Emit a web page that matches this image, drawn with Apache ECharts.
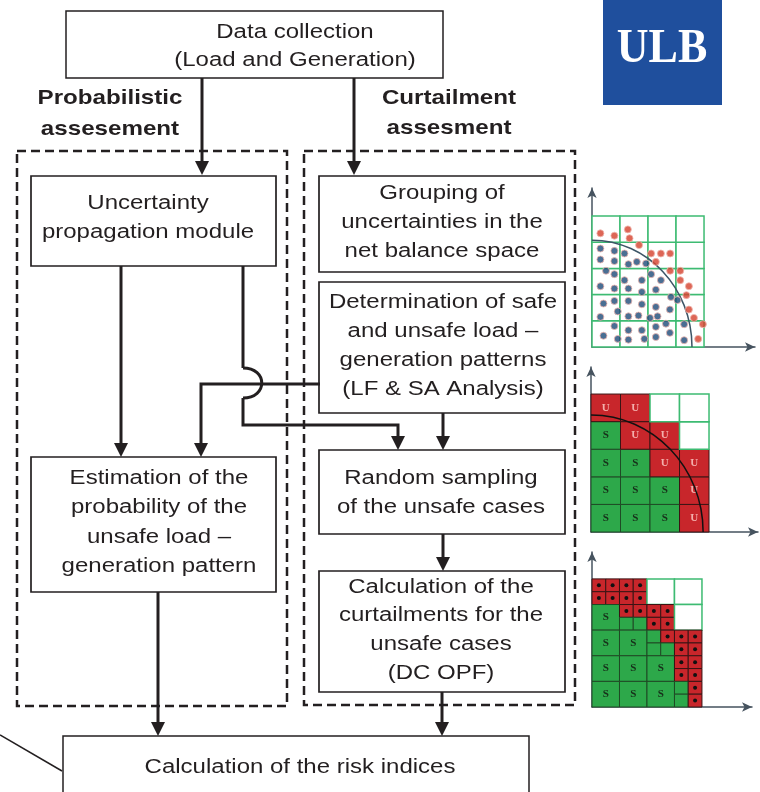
<!DOCTYPE html>
<html><head><meta charset="utf-8">
<script src="https://cdn.jsdelivr.net/npm/echarts@6/dist/echarts.min.js"></script>
<style>html,body{margin:0;padding:0;background:#fff}#c{width:760px;height:792px}</style>
</head><body><div id="c"></div>
<script>
// ---------- texts ----------
const dataCollectionText = ['Data collection', '(Load and Generation)'];
const probLabel = ['Probabilistic', 'assesement'];
const curtLabel = ['Curtailment', 'assesment'];
const uncertaintyText = ['Uncertainty', 'propagation module'];
const groupingText = ['Grouping of', 'uncertainties in the', 'net balance space'];
const determinationText = ['Determination of safe', 'and unsafe load \u2013', 'generation patterns', '(LF & SA Analysis)'];
const estimationText = ['Estimation of the', 'probability of the', 'unsafe load \u2013', 'generation pattern'];
const samplingText = ['Random sampling', 'of the unsafe cases'];
const curtailText = ['Calculation of the', 'curtailments for the', 'unsafe cases', '(DC OPF)'];
const riskText = ['Calculation of the risk indices'];
const logoText = 'ULB';

// ---------- mini chart 1: uncertainty points (grid units) ----------
const unsafePoints = [[0.30,4.34],[0.80,4.25],[1.28,4.49],[1.34,4.15],[1.68,3.89],[2.11,3.57],[2.46,3.57],[2.79,3.57],[2.28,3.25],[2.79,2.91],[3.15,2.91],[3.15,2.55],[3.46,2.32],[3.37,1.98],[3.46,1.43],[3.64,1.11],[3.96,0.87],[3.79,0.31]];
const safePoints = [[0.30,3.76],[0.80,3.67],[0.30,3.34],[0.80,3.28],[1.16,3.57],[1.30,3.16],[1.60,3.25],[1.93,3.19],[0.50,2.91],[0.80,2.78],[1.16,2.55],[1.78,2.55],[2.11,2.78],[2.46,2.55],[0.30,2.32],[0.80,2.23],[1.30,2.23],[1.78,2.10],[2.28,2.19],[2.82,1.91],[0.41,1.66],[0.80,1.76],[1.30,1.76],[1.78,1.63],[2.28,1.53],[2.78,1.43],[3.05,1.79],[0.92,1.36],[1.30,1.17],[1.66,1.20],[2.07,1.11],[2.34,1.17],[0.30,1.15],[2.64,0.89],[3.29,0.87],[0.80,0.80],[1.30,0.64],[1.78,0.64],[2.28,0.77],[2.78,0.54],[0.41,0.43],[0.92,0.31],[1.30,0.28],[1.87,0.31],[2.28,0.38],[3.29,0.26]];
const chart1Cols = 4, chart1Rows = 5;
const chart1Curve = [3.57, 4.08];

// ---------- mini chart 2: safe/unsafe cells (rows listed bottom to top) ----------
const chart2Cells = [
  ['S','S','S','U'],
  ['S','S','S','U'],
  ['S','S','U','U'],
  ['S','U','U','E'],
  ['U','U','E','E']
];
const chart2Curve = [3.8, 4.24];

// ---------- mini chart 3: refined cells [x, y, w, h, state] ----------
const chart3Cells = [
  [0,4.5,0.5,0.5,'D'],[0.5,4.5,0.5,0.5,'D'],[0,4,0.5,0.5,'D'],[0.5,4,0.5,0.5,'D'],
  [1,4.5,0.5,0.5,'D'],[1.5,4.5,0.5,0.5,'D'],[1,4,0.5,0.5,'D'],[1.5,4,0.5,0.5,'D'],
  [2,4,1,1,'E'],[3,4,1,1,'E'],
  [0,3,1,1,'S'],
  [1,3.5,0.5,0.5,'D'],[1.5,3.5,0.5,0.5,'D'],[1,3,0.5,0.5,'G'],[1.5,3,0.5,0.5,'G'],
  [2,3.5,0.5,0.5,'D'],[2.5,3.5,0.5,0.5,'D'],[2,3,0.5,0.5,'D'],[2.5,3,0.5,0.5,'D'],
  [3,3,1,1,'E'],
  [0,2,1,1,'S'],[1,2,1,1,'S'],
  [2,2.5,0.5,0.5,'G'],[2.5,2.5,0.5,0.5,'D'],[2,2,0.5,0.5,'G'],[2.5,2,0.5,0.5,'G'],
  [3,2.5,0.5,0.5,'D'],[3.5,2.5,0.5,0.5,'D'],[3,2,0.5,0.5,'D'],[3.5,2,0.5,0.5,'D'],
  [0,1,1,1,'S'],[1,1,1,1,'S'],[2,1,1,1,'S'],
  [3,1.5,0.5,0.5,'D'],[3.5,1.5,0.5,0.5,'D'],[3,1,0.5,0.5,'D'],[3.5,1,0.5,0.5,'D'],
  [0,0,1,1,'S'],[1,0,1,1,'S'],[2,0,1,1,'S'],
  [3,0.5,0.5,0.5,'G'],[3.5,0.5,0.5,0.5,'D'],[3,0,0.5,0.5,'G'],[3.5,0,0.5,0.5,'D']
];

// ---------- styles ----------
const INK = '#231f20';
const RED = '#c8262b', GREEN = '#2da84a', GRIDGREEN = '#3dbb72';
const FONT = '"Liberation Sans", Arial, Helvetica, sans-serif';

function textLines(lines, cx, y0, dy, bold) {
  return lines.map((t, i) => ({
    type: 'text', x: cx, y: y0 + i * dy, scaleX: bold ? 1.15 : 1.2, z: 100,
    style: { text: t, fill: INK, font: (bold ? 'bold 21px ' : '20px ') + FONT,
      textAlign: 'center', textVerticalAlign: 'middle', align: 'center', verticalAlign: 'middle' }
  }));
}
function box(x, y, w, h, lw, dash) {
  return { type: 'rect', z: 90, shape: { x: x, y: y, width: w, height: h },
    style: { fill: dash ? 'none' : '#fff', stroke: INK, lineWidth: lw, lineDash: dash || null } };
}
function arrow(points) {
  const n = points.length, tip = points[n - 1];
  const pts = points.slice(0, n - 1).concat([[tip[0], tip[1] - 10]]);
  return [
    { type: 'polyline', z: 95, shape: { points: pts }, style: { stroke: INK, lineWidth: 3, fill: 'none' } },
    { type: 'polygon', z: 96, shape: { points: [[tip[0] - 7, tip[1] - 14], [tip[0] + 7, tip[1] - 14], [tip[0], tip[1]]] }, style: { fill: INK } }
  ];
}

const g = [];
g.push(box(17, 151, 270, 555, 2.5, [9, 5]));
g.push(box(304, 151, 271, 554, 2.5, [9, 5]));
g.push(box(66, 11, 377, 67, 1.5));
g.push(box(31, 176, 245, 90, 1.7));
g.push(box(319, 176, 246, 96, 1.7));
g.push(box(319, 282, 246, 131, 1.7));
g.push(box(31, 457, 245, 135, 1.7));
g.push(box(319, 450, 246, 84, 1.7));
g.push(box(319, 571, 246, 121, 1.7));
g.push(box(63, 736, 466, 80, 1.5));
g.push({ type: 'line', z: 95, shape: { x1: 0, y1: 735, x2: 62, y2: 771 }, style: { stroke: INK, lineWidth: 1.5 } });
[
  [[202, 78], [202, 175]],
  [[354, 78], [354, 175]],
  [[121, 266], [121, 457]],
  [[320, 384], [201, 384], [201, 457]],
  [[443, 413], [443, 450]],
  [[443, 534], [443, 571]],
  [[442, 692], [442, 736]],
  [[158, 592], [158, 736]],
  [[243, 398], [243, 425], [398, 425], [398, 450]]
].forEach(p => arrow(p).forEach(e => g.push(e)));
g.push({ type: 'polyline', z: 95, shape: { points: [[243, 266], [243, 368]] }, style: { stroke: INK, lineWidth: 3, fill: 'none' } });
g.push({ type: 'bezierCurve', z: 95, shape: { x1: 243, y1: 368, cpx1: 268, cpy1: 368, cpx2: 268, cpy2: 398, x2: 243, y2: 398 }, style: { stroke: INK, lineWidth: 3, fill: 'none' } });
textLines(dataCollectionText, 295, 32, 28.5).forEach(e => g.push(e));
textLines(probLabel, 110, 98, 31, true).forEach(e => g.push(e));
textLines(curtLabel, 449, 98, 30, true).forEach(e => g.push(e));
textLines(uncertaintyText, 148, 203, 29).forEach(e => g.push(e));
textLines(groupingText, 442, 193, 29).forEach(e => g.push(e));
textLines(determinationText, 443, 302, 29).forEach(e => g.push(e));
textLines(estimationText, 159, 478, 29.5).forEach(e => g.push(e));
textLines(samplingText, 441, 478, 29).forEach(e => g.push(e));
textLines(curtailText, 441, 587, 28.7).forEach(e => g.push(e));
textLines(riskText, 300, 767, 29).forEach(e => g.push(e));
g.push({ type: 'rect', z: 90, shape: { x: 603, y: 0, width: 119, height: 105 }, style: { fill: '#1f4f9d' } });
g.push({ type: 'text', x: 662, y: 50, scaleY: 1.1, z: 100, style: { text: logoText, fill: '#fff', font: 'bold 44px "Liberation Serif", "Times New Roman", serif',
  textAlign: 'center', textVerticalAlign: 'middle', align: 'center', verticalAlign: 'middle' } });

function axisPair(idx, xmax, ymax) {
  const line = { show: true, symbol: ['none', 'arrow'], symbolSize: [7, 10], lineStyle: { color: '#46535f', width: 1.5 } };
  return {
    x: { type: 'value', gridIndex: idx, min: 0, max: xmax, axisLine: line, axisTick: { show: false }, axisLabel: { show: false }, splitLine: { show: false } },
    y: { type: 'value', gridIndex: idx, min: 0, max: ymax, axisLine: line, axisTick: { show: false }, axisLabel: { show: false }, splitLine: { show: false } }
  };
}
const a1 = axisPair(0, 5.82, 6.07), a2 = axisPair(1, 5.66, 5.98), a3 = axisPair(2, 5.82, 6.05);

function curveSeries(idx, r, color) {
  return { type: 'custom', xAxisIndex: idx, yAxisIndex: idx, z: 5, data: [r], silent: true,
    renderItem: function (params, api) {
      const rx = api.value(0), ry = api.value(1), k = 0.5523;
      const p0 = api.coord([0, ry]), p1 = api.coord([rx, 0]);
      const c1 = api.coord([k * rx, ry]), c2 = api.coord([rx, k * ry]);
      return { type: 'bezierCurve', shape: { x1: p0[0], y1: p0[1], cpx1: c1[0], cpy1: c1[1], cpx2: c2[0], cpy2: c2[1], x2: p1[0], y2: p1[1] },
        style: { stroke: color, lineWidth: 1.5, fill: 'none' } };
    } };
}

function cellRender(params, api) {
  const x = api.value(0), y = api.value(1), w = api.value(2), h = api.value(3), s = api.value(4);
  const p0 = api.coord([x, y + h]), p1 = api.coord([x + w, y]);
  const rect = { x: p0[0], y: p0[1], width: p1[0] - p0[0], height: p1[1] - p0[1] };
  const cx = rect.x + rect.width / 2, cy = rect.y + rect.height / 2;
  const children = [];
  let fill = 'none', stroke = GRIDGREEN, lw = 1.5;
  if (s === 'S' || s === 'G') { fill = GREEN; stroke = '#1f4a25'; lw = 1; }
  if (s === 'U' || s === 'D') { fill = RED; stroke = '#3a1414'; lw = 1; }
  if (s === 'E') { fill = '#fff'; }
  children.push({ type: 'rect', shape: rect, style: { fill: fill, stroke: stroke, lineWidth: lw } });
  if (s === 'S' || s === 'U') {
    children.push({ type: 'text', x: cx, y: cy, style: { text: s, fill: s === 'S' ? '#17301a' : '#f3b0ac',
      font: 'bold 11px "Liberation Serif", serif', textAlign: 'center', textVerticalAlign: 'middle', align: 'center', verticalAlign: 'middle' } });
  }
  if (s === 'D') {
    children.push({ type: 'circle', shape: { cx: cx, cy: cy, r: 2 }, style: { fill: '#111' } });
  }
  return { type: 'group', children: children };
}

const chart1Data = [];
for (let r = 0; r < chart1Rows; r++) for (let c = 0; c < chart1Cols; c++) chart1Data.push([c, r, 1, 1, 'E']);
const chart2Data = [];
chart2Cells.forEach((row, r) => row.forEach((s, c) => chart2Data.push([c, r, 1, 1, s])));

const option = {
  animation: false,
  backgroundColor: '#fff',
  grid: [
    { left: 592, top: 188, width: 163, height: 159 },
    { left: 591, top: 367, width: 167, height: 165 },
    { left: 592, top: 552, width: 160, height: 155 }
  ],
  xAxis: [a1.x, a2.x, a3.x],
  yAxis: [a1.y, a2.y, a3.y],
  graphic: { elements: g },
  series: [
    { type: 'custom', xAxisIndex: 0, yAxisIndex: 0, z: 2, data: chart1Data, renderItem: cellRender, silent: true },
    curveSeries(0, chart1Curve, '#3d5566'),
    { type: 'scatter', xAxisIndex: 0, yAxisIndex: 0, z: 6, data: safePoints, symbolSize: 7, silent: true,
      itemStyle: { color: '#1d4a78', borderColor: '#f0b8b0', borderWidth: 1 } },
    { type: 'scatter', xAxisIndex: 0, yAxisIndex: 0, z: 6, data: unsafePoints, symbolSize: 7, silent: true,
      itemStyle: { color: '#d5402c', borderColor: '#f0b8b0', borderWidth: 1 } },
    { type: 'custom', xAxisIndex: 1, yAxisIndex: 1, z: 2, data: chart2Data, renderItem: cellRender, silent: true },
    curveSeries(1, chart2Curve, '#111'),
    { type: 'custom', xAxisIndex: 2, yAxisIndex: 2, z: 2, data: chart3Cells, renderItem: cellRender, silent: true }
  ]
};
const chart = echarts.init(document.getElementById('c'), null, { renderer: 'canvas' });
chart.setOption(option);
</script></body></html>
